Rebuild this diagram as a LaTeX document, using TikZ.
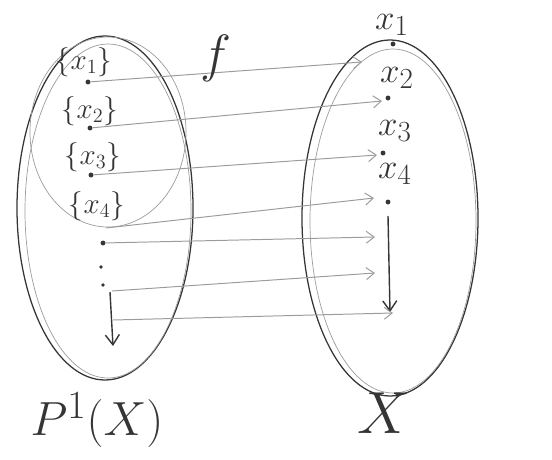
\documentclass[tikz,border=0pt]{standalone}
\usetikzlibrary{arrows.meta}
\definecolor{pencil}{HTML}{353535}
\definecolor{lightpencil}{HTML}{9C9C9C}
\tikzset{
  bag/.style={draw=pencil, line width=0.9pt},
  faintbag/.style={draw=lightpencil, line width=0.5pt},
  single/.style={font=\fontsize{21}{23}\selectfont, text=pencil, inner sep=0pt},
  elem/.style={font=\fontsize{24.88}{27}\selectfont, text=pencil, inner sep=0pt},
  pt/.style={circle, fill=pencil, inner sep=0pt, minimum size=3.5pt},
  map/.style={draw=lightpencil, line width=0.7pt, -{Straight Barb[length=2mm,width=3mm]}},
  seq/.style={draw=pencil, line width=1pt, -{Straight Barb[length=2.5mm,width=3.5mm]}},
  biglabel/.style={font=\fontsize{24.88}{30}\selectfont, text=pencil, inner sep=0pt},
}
\begin{document}
\begin{tikzpicture}[x=0.025cm, y=-0.025cm]
  \useasboundingbox (0,0) rectangle (552,460);
  % the two sets
  \draw[bag] (105,208) ellipse (88 and 172);
  \draw[faintbag] (108,211) ellipse (83 and 167);
  \draw[faintbag] (108,132) ellipse (78 and 95);
  \draw[bag] (390,218) ellipse (88 and 178);
  \draw[faintbag] (393,221) ellipse (83 and 172);

  % singletons on the left
  \node[single] (s1) at (84,62) {$\{x_1\}$};
  \node[single] (s2) at (90,111) {$\{x_2\}$};
  \node[single] (s3) at (93,157) {$\{x_3\}$};
  \node[single] (s4) at (97,206) {$\{x_4\}$};
  \node[pt] (p1) at (88,82) {};
  \node[pt] (p2) at (90,128) {};
  \node[pt] (p3) at (91,175) {};
  \node[pt] (p5) at (103,243) {};
  \node[pt,minimum size=2.5pt] (p6) at (101,267) {};
  \node[pt,minimum size=2.5pt] (p7) at (103,285) {};
  \coordinate (p4) at (106,228);
  \coordinate (q6) at (112,291);
  \coordinate (q7) at (113,320);
  \coordinate (ltop) at (110,292);
  \coordinate (lbot) at (113,346);
  \draw[seq] (ltop) -- (lbot);

  % elements on the right
  \node[elem] (x1) at (392,25) {$x_1$};
  \node[elem] (x2) at (397,78) {$x_2$};
  \node[elem] (x3) at (395,131) {$x_3$};
  \node[elem] (x4) at (395,174) {$x_4$};
  \node[pt] (r1) at (393,44) {};
  \node[pt] (r2) at (388,98) {};
  \node[pt] (r3) at (383,153) {};
  \node[pt] (r4) at (388,202) {};
  \coordinate (rtop) at (388,216);
  \coordinate (rbot) at (390,312);
  \draw[seq] (rtop) -- (rbot);

  % arrow tips on the right
  \coordinate (e1) at (362,62);
  \coordinate (e2) at (382,101);
  \coordinate (e3) at (377,155);
  \coordinate (e4) at (374,198);
  \coordinate (e5) at (375,237);
  \coordinate (e6) at (375,273);
  \coordinate (e7) at (393,313);

  \draw[map] (p1) -- (e1);
  \draw[map] (p2) -- (e2);
  \draw[map] (p3) -- (e3);
  \draw[map] (p4) -- (e4);
  \draw[map] (p5) -- (e5);
  \draw[map] (q6) -- (e6);
  \draw[map] (q7) -- (e7);

  \node[biglabel] (f) at (216,58) {\scalebox{1.5}{$f$}};
  \node[biglabel] (pset) at (97,420) {\scalebox{1.37}{$P^1(X)$}};
  \node[biglabel] (xset) at (384,413) {\scalebox{1.7}{$X$}};
\end{tikzpicture}
\end{document}
